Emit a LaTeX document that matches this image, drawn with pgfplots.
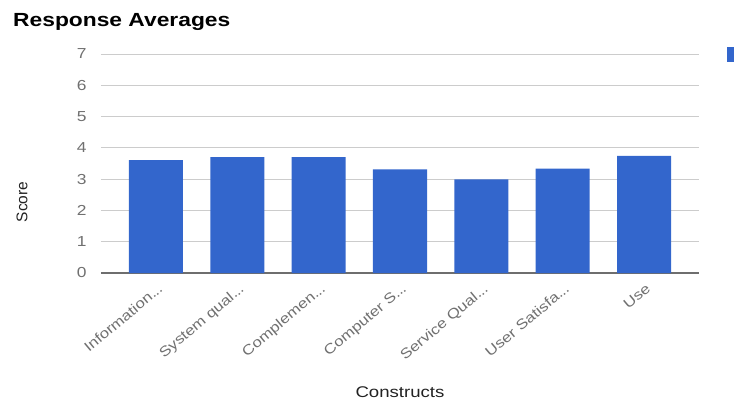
\documentclass[border=0pt]{standalone}
\usepackage{pgfplots}
\pgfplotsset{compat=1.18}
\usepackage{fontspec}
\setmainfont{Liberation Sans}[FakeStretch=1.2]
\newfontfamily\nostretch{Liberation Sans}
\definecolor{barblue}{HTML}{3366CC}
\definecolor{gridgray}{HTML}{CCCCCC}
\definecolor{ticklab}{HTML}{707070}
\definecolor{axisgray}{HTML}{6E6E6E}
\definecolor{labcol}{HTML}{222222}
\newcommand{\dd}{.\kern-0.5pt.\kern-0.5pt.}
\begin{document}
\begin{tikzpicture}
\path[use as bounding box] (-101pt,-127pt) rectangle (633pt,273pt);
\begin{axis}[
  at={(0pt,0pt)}, anchor=south west,
  scale only axis,
  width=598pt, height=219pt,
  ymin=0, ymax=7,
  xmin=-0.676, xmax=6.676,
  ytick={0,1,2,3,4,5,6,7},
  xtick={0,1,2,3,4,5,6},
  xticklabels={{Information\dd}, {System qual\dd}, {Complemen\dd}, {Computer S\dd}, {Service Qual\dd}, {User Satisfa\dd}, {Use}},
  ymajorgrids,
  grid style={gridgray, line width=1pt},
  axis lines*=left,
  y axis line style={draw=none},
  x axis line style={draw=axisgray, line width=1.5pt, -},
  major tick length=0pt,
  tick style={draw=none},
  /pgf/number format/assume math mode=true,
  yticklabel style={font=\fontsize{14.5}{18}\selectfont, text=ticklab, xshift=-11pt},
  xticklabel style={font=\fontsize{14}{17}\selectfont, text=ticklab, xshift=1pt, yshift=-9.5pt, rotate=40, anchor=north east, inner sep=0pt},
  ylabel={\nostretch Score},
  ylabel style={font=\fontsize{15.5}{18}\selectfont, text=labcol, at={(axis description cs:-0.132,0.324)}, anchor=center},
  xlabel={Constructs},
  xlabel style={font=\fontsize{15.5}{18}\selectfont, text=labcol, at={(axis description cs:0.5,-0.543)}, anchor=center},
  legend style={draw=none, fill=none, at={(axis description cs:1.0468,0.998)}, anchor=west, inner sep=0pt, font=\fontsize{15}{18}\selectfont},
  legend image code/.code={\fill[barblue] (0pt,-7.5pt) rectangle (15pt,7.5pt);},
  clip=false,
]
\addplot[ybar, bar width=0.664, fill=barblue, draw=none] coordinates {
  (0,3.61) (1,3.70) (2,3.70) (3,3.31) (4,2.99) (5,3.34) (6,3.74)
};
\addlegendentry{}
\end{axis}
\node[anchor=base west, inner sep=0pt, font=\bfseries\fontsize{19}{23}\selectfont] at (-88pt,247pt) {Response Averages};
\end{tikzpicture}
\end{document}
